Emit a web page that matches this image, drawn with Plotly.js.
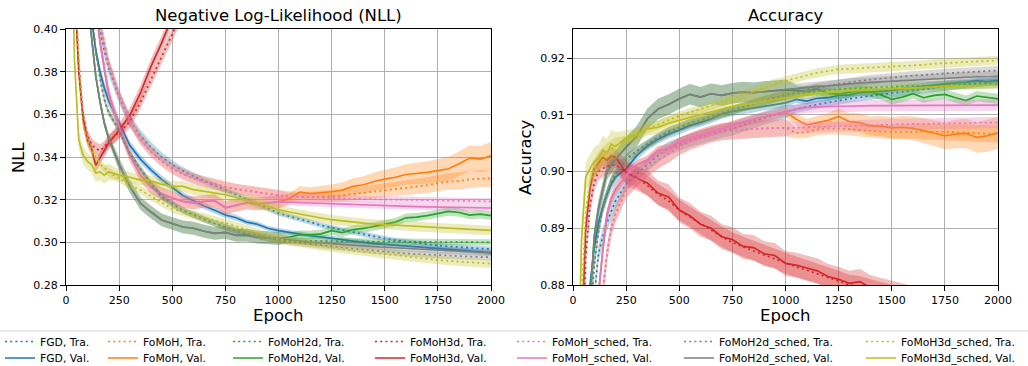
<!DOCTYPE html>
<html><head><meta charset="utf-8">
<script src="https://cdn.plot.ly/plotly-3.0.1.min.js"></script>
<style>html,body{margin:0;padding:0;background:#fff;}#chart{width:1028px;height:366px;}</style>
</head><body><div id="chart"></div>
<script>
// ---------------- DATA ----------------
const epochs = [0,20,40,60,80,100,120,140,160,180,200,
 250,300,350,400,450,500,550,600,650,700,750,800,850,900,950,1000,
 1050,1100,1150,1200,1250,1300,1350,1400,1450,1500,1550,1600,1650,1700,1750,1800,1850,1900,1950,2000];

const methodNames = ['FGD','FoMoH','FoMoH2d','FoMoH3d','FoMoH_sched','FoMoH2d_sched','FoMoH3d_sched'];
const panelTitles = ['Negative Log-Likelihood (NLL)','Accuracy'];
const yTitles = ['NLL','Accuracy'];
const xTitle = 'Epoch';
const nllTicks = [0.28,0.30,0.32,0.34,0.36,0.38,0.40];
const accTicks = [0.88,0.89,0.90,0.91,0.92];
const epochTicks = [0,250,500,750,1000,1250,1500,1750,2000];

// NLL means
const nllFGDTra = [0.700,0.630,0.570,0.520,0.480,0.450,0.430,0.413,0.400,0.390,0.382,
 0.368,0.357,0.350,0.3445,0.340,0.3365,0.3335,0.331,0.3288,0.3268,0.3245,0.3222,0.3200,0.3180,0.3158,0.3137,
 0.3122,0.3110,0.3095,0.3080,0.3068,0.3058,0.3048,0.3037,0.3027,0.3018,0.3010,0.3003,0.2997,0.2991,0.2985,0.2981,0.2977,0.2974,0.2971,0.2969];
const nllFGDVal = [0.700,0.620,0.550,0.500,0.460,0.430,0.405,0.390,0.380,0.3725,0.3665,
 0.3560,0.3455,0.3390,0.3340,0.3295,0.3258,0.3220,0.3195,0.3170,0.3150,0.3128,0.3115,0.3095,0.3085,0.3066,0.3055,
 0.3046,0.3038,0.3031,0.3025,0.3020,0.3013,0.3006,0.2999,0.2994,0.2990,0.2986,0.2983,0.2979,0.2976,0.2972,0.2968,0.2963,0.2960,0.2955,0.2952];
const nllFoMoHTra = [0.700,0.640,0.580,0.530,0.490,0.460,0.435,0.415,0.403,0.393,0.384,
 0.369,0.357,0.3485,0.3425,0.3380,0.3345,0.3320,0.3300,0.3285,0.3272,0.3260,0.3250,0.3242,0.3235,0.3228,0.3220,
 0.3215,0.3212,0.3212,0.3214,0.3216,0.3220,0.3226,0.3232,0.3238,0.3247,0.3252,0.3258,0.3263,0.3268,0.3278,0.3285,0.3288,0.3295,0.3298,0.3300];
const nllFoMoHVal = [0.700,0.640,0.585,0.535,0.495,0.460,0.432,0.410,0.394,0.381,0.370,
 0.354,0.341,0.3315,0.3258,0.3228,0.3208,0.3192,0.3185,0.3192,0.3195,0.3162,0.3175,0.3185,0.3180,0.3185,0.3190,
 0.3205,0.3235,0.3228,0.3232,0.3237,0.3245,0.3262,0.3270,0.3285,0.3296,0.3305,0.3318,0.3322,0.3328,0.3336,0.3345,0.3368,0.3395,0.3390,0.3405];
const nllFoMoH2dTra = [0.700,0.630,0.560,0.505,0.465,0.435,0.410,0.390,0.377,0.367,0.361,
 0.3525,0.3415,0.3345,0.3275,0.3215,0.3180,0.3150,0.3128,0.3108,0.3088,0.3070,0.3055,0.3042,0.3031,0.3020,0.3010,
 0.3008,0.3007,0.3006,0.3006,0.3005,0.3005,0.3004,0.3004,0.3003,0.3003,0.3003,0.3002,0.3002,0.3002,0.3001,0.3001,0.3001,0.3000,0.3000,0.3000];
const nllFoMoH2dVal = [0.700,0.620,0.550,0.490,0.450,0.415,0.395,0.378,0.366,0.356,0.349,
 0.3365,0.3262,0.3183,0.3142,0.3105,0.3088,0.3072,0.3066,0.3052,0.3042,0.3047,0.3033,0.3034,0.3024,0.3022,0.3018,
 0.3025,0.3035,0.3035,0.3040,0.3055,0.3045,0.3060,0.3065,0.3075,0.3085,0.3095,0.3115,0.3118,0.3125,0.3135,0.3145,0.3140,0.3128,0.3132,0.3125];
const nllFoMoH3dTra = [0.700,0.530,0.425,0.385,0.360,0.350,0.346,0.344,0.343,0.3445,0.3475,
 0.3515,0.3565,0.3655,0.3765,0.3870,0.3975,0.4080,0.4190,0.4310,0.4430,0.4550,0.4670,0.4790,0.4910,0.5030,0.5150,
 0.527,0.539,0.551,0.563,0.575,0.587,0.599,0.611,0.623,0.635,0.647,0.659,0.671,0.683,0.695,0.707,0.719,0.731,0.743,0.755];
const nllFoMoH3dVal = [0.700,0.520,0.420,0.380,0.358,0.348,0.344,0.336,0.3395,0.343,0.3465,
 0.3525,0.3595,0.3700,0.3825,0.3935,0.4055,0.4170,0.4290,0.4410,0.4530,0.4650,0.4770,0.4890,0.5010,0.5130,0.5250,
 0.537,0.549,0.561,0.573,0.585,0.597,0.609,0.621,0.633,0.645,0.657,0.669,0.681,0.693,0.705,0.717,0.729,0.741,0.753,0.765];
const nllSchedTra = [0.700,0.640,0.580,0.530,0.490,0.460,0.435,0.415,0.403,0.393,0.384,
 0.369,0.357,0.3485,0.3425,0.3380,0.3345,0.3320,0.3300,0.3285,0.3272,0.3260,0.3250,0.3242,0.3235,0.3228,0.3220,
 0.3218,0.3215,0.3213,0.3210,0.3208,0.3206,0.3204,0.3203,0.3202,0.3200,0.3199,0.3198,0.3197,0.3196,0.3195,0.3194,0.3193,0.3193,0.3192,0.3192];
const nllSchedVal = [0.700,0.640,0.585,0.535,0.495,0.460,0.432,0.410,0.394,0.381,0.370,
 0.354,0.341,0.3315,0.3258,0.3228,0.3208,0.3192,0.3185,0.3192,0.3195,0.3162,0.3175,0.3185,0.3180,0.3185,0.3190,
 0.3188,0.3186,0.3184,0.3182,0.3180,0.3178,0.3176,0.3174,0.3172,0.3170,0.3169,0.3168,0.3167,0.3166,0.3165,0.3164,0.3163,0.3162,0.3161,0.3161];
const nll2dSchedTra = [0.700,0.630,0.560,0.505,0.465,0.435,0.410,0.390,0.377,0.367,0.361,
 0.3525,0.3415,0.3345,0.3275,0.3215,0.3180,0.3150,0.3128,0.3108,0.3088,0.3070,0.3055,0.3042,0.3031,0.3020,0.3010,
 0.3003,0.2997,0.2990,0.2985,0.2980,0.2975,0.2970,0.2965,0.2960,0.2956,0.2952,0.2948,0.2945,0.2942,0.2939,0.2937,0.2935,0.2933,0.2931,0.2930];
const nll2dSchedVal = [0.700,0.620,0.550,0.490,0.450,0.415,0.395,0.378,0.366,0.356,0.349,
 0.3365,0.3262,0.3183,0.3142,0.3105,0.3088,0.3072,0.3066,0.3052,0.3042,0.3047,0.3033,0.3034,0.3024,0.3022,0.3018,
 0.3012,0.3005,0.3000,0.2997,0.2993,0.2990,0.2987,0.2983,0.2980,0.2977,0.2974,0.2971,0.2968,0.2965,0.2962,0.2960,0.2957,0.2955,0.2952,0.2950];
const nll3dSchedTra = [0.700,0.520,0.420,0.385,0.355,0.348,0.343,0.340,0.337,0.335,0.333,
 0.3300,0.3270,0.3245,0.3215,0.3185,0.3158,0.3142,0.3128,0.3115,0.3103,0.3090,0.3075,0.3060,0.3045,0.3030,0.3015,
 0.3005,0.2997,0.2990,0.2982,0.2975,0.2968,0.2962,0.2956,0.2950,0.2944,0.2938,0.2932,0.2927,0.2922,0.2917,0.2913,0.2909,0.2905,0.2902,0.2900];
const nll3dSchedVal = [0.700,0.480,0.385,0.348,0.341,0.338,0.3365,0.3325,0.3330,0.3315,0.3330,
 0.3315,0.3305,0.3292,0.3288,0.3272,0.3262,0.3262,0.3247,0.3240,0.3232,0.3223,0.3210,0.3198,0.3185,0.3170,0.3153,
 0.3142,0.3132,0.3122,0.3114,0.3106,0.3100,0.3095,0.3090,0.3086,0.3083,0.3080,0.3076,0.3073,0.3070,0.3067,0.3065,0.3062,0.3060,0.3058,0.3056];

// NLL spread (std)
const sNllFGDTra = [.004,.004,.004,.004,.004,.004,.004,.004,.004,.0035,.0035,
 .003,.003,.0028,.0025,.0022,.002,.0018,.0016,.0015,.0015,.0014,.0014,.0013,.0013,.0012,.0012,
 .0012,.0012,.0012,.0012,.0012,.0012,.0012,.0012,.0012,.0012,.0012,.0012,.0012,.0012,.0012,.0012,.0012,.0012,.0012,.0012];
const sNllFGDVal = [.003,.003,.003,.003,.003,.003,.003,.003,.003,.003,.003,
 .0022,.002,.002,.0018,.0018,.0016,.0016,.0015,.0015,.0015,.0014,.0014,.0013,.0013,.0012,.0012,
 .0012,.0012,.0012,.0012,.0012,.0012,.0012,.0012,.0012,.0012,.0011,.0011,.0011,.0011,.0011,.0011,.0011,.0011,.0011,.0011];
const sNllFoMoHTra = [.003,.003,.003,.003,.003,.003,.003,.003,.003,.003,.003,
 .0028,.0027,.0026,.0025,.0025,.0025,.0025,.0025,.0025,.0025,.0025,.0025,.0025,.0025,.0025,.0025,
 .0025,.0025,.0026,.0027,.0028,.0029,.003,.0031,.0032,.0033,.0034,.0035,.0036,.0037,.0038,.0039,.004,.004,.004,.004];
const sNllFoMoHVal = [.003,.003,.003,.003,.003,.003,.003,.003,.003,.003,.003,
 .003,.003,.003,.003,.003,.003,.003,.003,.003,.003,.003,.003,.003,.003,.003,.003,
 .0025,.0028,.003,.0032,.0034,.0036,.0038,.004,.0042,.0044,.0046,.0048,.005,.0052,.0054,.0056,.0058,.006,.0062,.0065];
const sNllFoMoH2dTra = [.0015,.0015,.0015,.0015,.0015,.0015,.0015,.0015,.0015,.0015,.0015,
 .0015,.0015,.0015,.0015,.0015,.0015,.0015,.0015,.0015,.0015,.0015,.0015,.0015,.0015,.0015,.0015,
 .0015,.0015,.0015,.0015,.0015,.0015,.0015,.0015,.0015,.0015,.0015,.0015,.0015,.0015,.0015,.0015,.0015,.0015,.0015,.0015];
const sNllFoMoH2dVal = [.002,.002,.002,.002,.002,.002,.002,.002,.002,.002,.002,
 .003,.003,.003,.003,.003,.003,.003,.003,.003,.003,.003,.003,.003,.003,.003,.003,
 .002,.002,.002,.002,.002,.002,.002,.002,.002,.002,.002,.002,.002,.002,.002,.002,.002,.002,.002,.002];
const sNllFoMoH3dTra = [.003,.003,.003,.003,.003,.003,.003,.003,.003,.003,.003,
 .003,.003,.003,.003,.003,.003,.003,.003,.003,.003,.003,.003,.003,.003,.003,.003,
 .003,.003,.003,.003,.003,.003,.003,.003,.003,.003,.003,.003,.003,.003,.003,.003,.003,.003,.003,.003];
const sNllFoMoH3dVal = [.003,.003,.003,.003,.003,.003,.003,.003,.003,.003,.003,
 .0035,.0035,.0035,.0035,.0035,.0035,.0035,.0035,.0035,.0035,.0035,.0035,.0035,.0035,.0035,.0035,
 .0035,.0035,.0035,.0035,.0035,.0035,.0035,.0035,.0035,.0035,.0035,.0035,.0035,.0035,.0035,.0035,.0035,.0035,.0035,.0035];
const sNllSchedTra = [.003,.003,.003,.003,.003,.003,.003,.003,.003,.003,.003,
 .0028,.0027,.0026,.0025,.0025,.0025,.0025,.0025,.0025,.0025,.0025,.0025,.0025,.0025,.0025,.0025,
 .0015,.0015,.0015,.0015,.0015,.0015,.0015,.0015,.0015,.0015,.0015,.0015,.0015,.0015,.0015,.0015,.0015,.0015,.0015,.0015];
const sNllSchedVal = [.003,.003,.003,.003,.003,.003,.003,.003,.003,.003,.003,
 .003,.003,.003,.003,.003,.003,.003,.003,.003,.003,.003,.003,.003,.003,.003,.003,
 .0015,.0015,.0015,.0015,.0015,.0015,.0015,.0015,.0015,.0015,.0015,.0015,.0015,.0015,.0015,.0015,.0015,.0015,.0015,.0015];
const sNll2dSchedTra = [.0015,.0015,.0015,.0015,.0015,.0015,.0015,.0015,.0015,.0015,.0015,
 .0015,.0015,.0015,.0015,.0015,.0015,.0015,.0015,.0015,.0015,.0015,.0015,.0015,.0015,.0015,.0015,
 .0015,.0015,.0015,.0015,.0015,.0015,.0015,.0015,.0015,.0015,.0015,.0015,.0015,.0015,.0015,.0015,.0015,.0015,.0015,.0015];
const sNll2dSchedVal = [.002,.002,.002,.002,.002,.002,.002,.002,.002,.002,.002,
 .003,.003,.003,.003,.003,.003,.003,.003,.003,.003,.003,.003,.003,.003,.003,.003,
 .0015,.0015,.0015,.0015,.0015,.0015,.0015,.0015,.0015,.0015,.0015,.0015,.0015,.0015,.0015,.0015,.0015,.0015,.0015,.0015];
const sNll3dSchedTra = [.002,.002,.002,.002,.002,.002,.002,.002,.002,.002,.002,
 .002,.002,.002,.002,.002,.002,.002,.002,.002,.002,.002,.002,.002,.002,.002,.002,
 .002,.002,.002,.002,.002,.002,.002,.002,.002,.002,.002,.002,.002,.002,.002,.002,.002,.002,.002,.002];
const sNll3dSchedVal = [.004,.004,.004,.004,.004,.004,.004,.004,.004,.004,.004,
 .0025,.0025,.0025,.0025,.0025,.0025,.0025,.0025,.0025,.0025,.0025,.0025,.0025,.0025,.0025,.0025,
 .0022,.0022,.0022,.0022,.0022,.0022,.0022,.0022,.0022,.0022,.0022,.0022,.0022,.0022,.0022,.0022,.0022,.0022,.0022,.0022];

// Accuracy means
const accFGDTra = [0.700,0.750,0.790,0.830,0.855,0.878,0.8856,0.8885,0.8910,0.8930,0.8948,
 0.8978,0.8996,0.9012,0.9028,0.9041,0.9048,0.9055,0.9061,0.9066,0.9071,0.9075,0.9082,0.9088,0.9095,0.9100,0.9105,
 0.9110,0.9114,0.9118,0.9122,0.9125,0.9128,0.9131,0.9134,0.9136,0.9138,0.9140,0.9142,0.9145,0.9147,0.9150,0.9152,0.9154,0.9156,0.9158,0.9160];
const accFGDVal = [0.720,0.770,0.815,0.850,0.880,0.8865,0.8910,0.8938,0.8960,0.8978,0.8990,
 0.9005,0.9028,0.9045,0.9057,0.9066,0.9073,0.9081,0.9087,0.9093,0.9101,0.9106,0.9109,0.9112,0.9116,0.9118,0.9121,
 0.9127,0.9124,0.9129,0.9130,0.9134,0.9135,0.9139,0.9140,0.9141,0.9143,0.9146,0.9148,0.9150,0.9153,0.9155,0.9156,0.9157,0.9160,0.9158,0.9160];
const accFoMoHTra = [0.690,0.730,0.770,0.800,0.830,0.853,0.869,0.879,0.8855,0.8900,0.8925,
 0.8968,0.8988,0.9006,0.9020,0.9031,0.9044,0.9053,0.9060,0.9066,0.9070,0.9072,0.9074,0.9075,0.9076,0.9076,0.9077,
 0.9068,0.9069,0.9074,0.9076,0.9076,0.9075,0.9074,0.9072,0.9070,0.9070,0.9070,0.9071,0.9070,0.9070,0.9070,0.9069,0.9068,0.9067,0.9067,0.9066];
const accFoMoHVal = [0.700,0.740,0.780,0.815,0.845,0.868,0.8785,0.8860,0.8925,0.8952,0.8968,
 0.8993,0.9012,0.9020,0.9037,0.9041,0.9052,0.9058,0.9064,0.9070,0.9076,0.9081,0.9087,0.9092,0.9096,0.9100,0.9105,
 0.9092,0.9082,0.9086,0.9090,0.9097,0.9088,0.9086,0.9080,0.9080,0.9077,0.9078,0.9076,0.9072,0.9068,0.9063,0.9066,0.9067,0.9060,0.9063,0.9068];
const accFoMoH2dTra = [0.740,0.790,0.830,0.857,0.873,0.8835,0.8895,0.8935,0.8960,0.8983,0.8995,
 0.9022,0.9036,0.9048,0.9060,0.9070,0.9078,0.9085,0.9090,0.9097,0.9103,0.9108,0.9114,0.9119,0.9125,0.9130,0.9135,
 0.9138,0.9140,0.9142,0.9143,0.9145,0.9146,0.9147,0.9148,0.9149,0.9150,0.9150,0.9151,0.9151,0.9152,0.9152,0.9153,0.9153,0.9154,0.9154,0.9155];
const accFoMoH2dVal = [0.750,0.800,0.840,0.865,0.877,0.8885,0.8935,0.8965,0.9000,0.9012,0.9022,
 0.9043,0.9062,0.9093,0.9110,0.9118,0.9128,0.9136,0.9131,0.9137,0.9134,0.9138,0.9140,0.9139,0.9141,0.9142,0.9144,
 0.9143,0.9141,0.9145,0.9138,0.9136,0.9140,0.9143,0.9140,0.9135,0.9127,0.9131,0.9137,0.9130,0.9134,0.9136,0.9130,0.9125,0.9133,0.9130,0.9128];
const accFoMoH3dTra = [0.750,0.810,0.860,0.885,0.894,0.898,0.9000,0.9005,0.9010,0.9010,0.9012,
 0.8998,0.8990,0.8975,0.8960,0.8948,0.8932,0.8920,0.8908,0.8896,0.8885,0.8875,0.8867,0.8860,0.8853,0.8846,0.8838,
 0.8832,0.8826,0.8820,0.8813,0.8807,0.8800,0.8798,0.8792,0.8787,0.8782,0.8777,0.8773,0.8769,0.8765,0.8761,0.8757,0.8753,0.8750,0.8747,0.8743];
const accFoMoH3dVal = [0.760,0.820,0.870,0.890,0.897,0.9005,0.9015,0.9025,0.9020,0.9028,0.9025,
 0.8998,0.8988,0.8980,0.8962,0.8955,0.8932,0.8922,0.8907,0.8900,0.8885,0.8880,0.8868,0.8866,0.8855,0.8852,0.8838,
 0.8835,0.8830,0.8825,0.8815,0.8810,0.8803,0.8806,0.8795,0.8790,0.8785,0.8780,0.8776,0.8772,0.8768,0.8764,0.8760,0.8756,0.8752,0.8749,0.8745];
const accSchedTra = [0.690,0.730,0.770,0.800,0.830,0.853,0.869,0.879,0.8855,0.8900,0.8925,
 0.8968,0.8988,0.9006,0.9020,0.9031,0.9044,0.9053,0.9060,0.9066,0.9070,0.9072,0.9074,0.9075,0.9076,0.9076,0.9077,
 0.9077,0.9078,0.9078,0.9079,0.9080,0.9080,0.9081,0.9081,0.9082,0.9083,0.9083,0.9084,0.9084,0.9084,0.9085,0.9085,0.9085,0.9086,0.9086,0.9086];
const accSchedVal = [0.700,0.740,0.780,0.815,0.845,0.868,0.8785,0.8860,0.8925,0.8952,0.8968,
 0.8993,0.9012,0.9020,0.9037,0.9041,0.9052,0.9058,0.9064,0.9070,0.9076,0.9081,0.9087,0.9092,0.9096,0.9100,0.9105,
 0.9110,0.9113,0.9114,0.9115,0.9115,0.9115,0.9116,0.9116,0.9116,0.9116,0.9116,0.9117,0.9117,0.9117,0.9117,0.9117,0.9117,0.9117,0.9117,0.9117];
const acc2dSchedTra = [0.740,0.790,0.830,0.857,0.873,0.8835,0.8895,0.8935,0.8960,0.8983,0.8995,
 0.9022,0.9036,0.9048,0.9060,0.9070,0.9078,0.9085,0.9090,0.9097,0.9103,0.9108,0.9114,0.9119,0.9125,0.9130,0.9135,
 0.9140,0.9144,0.9148,0.9151,0.9155,0.9158,0.9160,0.9162,0.9164,0.9166,0.9168,0.9169,0.9170,0.9172,0.9173,0.9174,0.9175,0.9176,0.9177,0.9178];
const acc2dSchedVal = [0.750,0.800,0.840,0.865,0.877,0.8885,0.8935,0.8965,0.9000,0.9012,0.9022,
 0.9043,0.9062,0.9093,0.9110,0.9118,0.9128,0.9136,0.9131,0.9137,0.9134,0.9138,0.9140,0.9139,0.9141,0.9142,0.9144,
 0.9146,0.9148,0.9150,0.9151,0.9153,0.9155,0.9156,0.9157,0.9158,0.9160,0.9161,0.9162,0.9163,0.9164,0.9165,0.9166,0.9166,0.9167,0.9167,0.9168];
const acc3dSchedTra = [0.790,0.840,0.878,0.893,0.898,0.9005,0.9020,0.9028,0.9035,0.9040,0.9045,
 0.9055,0.9066,0.9075,0.9083,0.9090,0.9098,0.9104,0.9110,0.9116,0.9122,0.9128,0.9135,0.9141,0.9148,0.9155,0.9160,
 0.9165,0.9170,0.9174,0.9177,0.9180,0.9181,0.9182,0.9183,0.9183,0.9184,0.9186,0.9187,0.9188,0.9190,0.9191,0.9192,0.9193,0.9194,0.9195,0.9196];
const acc3dSchedVal = [0.800,0.855,0.888,0.899,0.9005,0.9018,0.9022,0.9038,0.9033,0.9048,0.9044,
 0.9060,0.9064,0.9075,0.9078,0.9085,0.9090,0.9095,0.9099,0.9104,0.9109,0.9115,0.9118,0.9120,0.9124,0.9127,0.9130,
 0.9133,0.9135,0.9137,0.9139,0.9140,0.9142,0.9143,0.9144,0.9145,0.9146,0.9147,0.9148,0.9149,0.9150,0.9150,0.9151,0.9151,0.9152,0.9152,0.9152];

// Accuracy spread (std)
const sAccFGDTra = [.0015,.0015,.0015,.0015,.0015,.0015,.0015,.0015,.0015,.0015,.0015,
 .0012,.0012,.0012,.0012,.0012,.0012,.0012,.0012,.0012,.0012,.0012,.0012,.0012,.0012,.0012,.0012,
 .0007,.0007,.0007,.0007,.0007,.0007,.0007,.0007,.0007,.0007,.0007,.0007,.0007,.0007,.0007,.0007,.0007,.0007,.0007,.0007];
const sAccFGDVal = [.0012,.0012,.0012,.0012,.0012,.0012,.0012,.0012,.0012,.0012,.0012,
 .0008,.0008,.0008,.0008,.0008,.0008,.0008,.0008,.0008,.0008,.0008,.0008,.0008,.0008,.0008,.0008,
 .0006,.0006,.0006,.0006,.0006,.0006,.0006,.0006,.0006,.0006,.0006,.0006,.0006,.0006,.0006,.0006,.0006,.0006,.0006,.0006];
const sAccFoMoHTra = [.0015,.0015,.0015,.0015,.0015,.0015,.0015,.0015,.0015,.0015,.0015,
 .0015,.0015,.0015,.0015,.0015,.0015,.0015,.0015,.0015,.0015,.0015,.0015,.0015,.0015,.0015,.0015,
 .001,.001,.001,.0011,.0011,.0011,.0012,.0012,.0012,.0013,.0013,.0013,.0014,.0014,.0014,.0015,.0015,.0015,.0015,.0015];
const sAccFoMoHVal = [.001,.001,.001,.001,.001,.001,.001,.001,.001,.001,.001,
 .0008,.0008,.0008,.0008,.0008,.0008,.0008,.0008,.0008,.0008,.0008,.0008,.0008,.0008,.0008,.0008,
 .001,.0011,.0012,.0013,.0014,.0015,.0016,.0017,.0018,.0019,.002,.0021,.0022,.0023,.0024,.0025,.0026,.0027,.0028,.0028];
const sAccFoMoH2dTra = [.001,.001,.001,.001,.001,.001,.001,.001,.001,.001,.001,
 .0008,.0008,.0008,.0008,.0008,.0008,.0008,.0008,.0008,.0008,.0008,.0008,.0008,.0008,.0008,.0008,
 .0008,.0008,.0008,.0008,.0008,.0008,.0008,.0008,.0008,.0008,.0008,.0008,.0008,.0008,.0008,.0008,.0008,.0008,.0008,.0008];
const sAccFoMoH2dVal = [.0015,.0015,.0015,.0015,.0015,.0015,.0015,.0015,.0015,.0015,.0015,
 .0018,.0018,.0018,.0018,.0018,.0018,.0018,.0018,.0018,.0018,.0018,.0018,.0018,.0018,.0018,.0018,
 .0009,.0009,.0009,.0009,.0009,.0009,.0009,.0009,.0009,.0009,.0009,.0009,.0009,.0009,.0009,.0009,.0009,.0009,.0009,.0009];
const sAccFoMoH3dTra = [.0015,.0015,.0015,.0015,.0015,.0015,.0015,.0015,.0015,.0015,.0015,
 .0018,.0018,.0018,.0018,.0018,.0018,.0018,.0018,.0018,.0018,.0018,.0018,.0018,.0018,.0018,.0018,
 .0018,.0018,.0018,.0018,.0018,.0018,.0018,.0018,.0018,.0018,.0018,.0018,.0018,.0018,.0018,.0018,.0018,.0018,.0018,.0018];
const sAccFoMoH3dVal = [.0015,.0015,.0015,.0015,.0015,.0015,.0015,.0015,.0015,.0015,.0015,
 .0022,.0022,.0022,.0022,.0022,.0022,.0022,.0022,.0022,.0022,.0022,.0022,.0022,.0022,.0022,.0022,
 .0022,.0022,.0022,.0022,.0022,.0022,.0022,.0022,.0022,.0022,.0022,.0022,.0022,.0022,.0022,.0022,.0022,.0022,.0022,.0022];
const sAccSchedTra = [.0015,.0015,.0015,.0015,.0015,.0015,.0015,.0015,.0015,.0015,.0015,
 .0015,.0015,.0015,.0015,.0015,.0015,.0015,.0015,.0015,.0015,.0015,.0015,.0015,.0015,.0015,.0015,
 .001,.001,.001,.001,.001,.001,.001,.001,.001,.001,.001,.001,.001,.001,.001,.001,.001,.001,.001,.001];
const sAccSchedVal = [.001,.001,.001,.001,.001,.001,.001,.001,.001,.001,.001,
 .0008,.0008,.0008,.0008,.0008,.0008,.0008,.0008,.0008,.0008,.0008,.0008,.0008,.0008,.0008,.0008,
 .001,.001,.001,.001,.001,.001,.001,.001,.001,.001,.001,.001,.001,.001,.001,.001,.001,.001,.001,.001];
const sAcc2dSchedTra = [.001,.001,.001,.001,.001,.001,.001,.001,.001,.001,.001,
 .0008,.0008,.0008,.0008,.0008,.0008,.0008,.0008,.0008,.0008,.0008,.0008,.0008,.0008,.0008,.0008,
 .0008,.0008,.0008,.0008,.0008,.0008,.0008,.0008,.0008,.0008,.0008,.0008,.0008,.0008,.0008,.0008,.0008,.0008,.0008,.0008];
const sAcc2dSchedVal = [.0015,.0015,.0015,.0015,.0015,.0015,.0015,.0015,.0015,.0015,.0015,
 .0018,.0018,.0018,.0018,.0018,.0018,.0018,.0018,.0018,.0018,.0018,.0018,.0018,.0018,.0018,.0018,
 .0009,.0009,.0009,.0009,.0009,.0009,.0009,.0009,.0009,.0009,.0009,.0009,.0009,.0009,.0009,.0009,.0009,.0009,.0009,.0009];
const sAcc3dSchedTra = [.0015,.0015,.0015,.0015,.0015,.0015,.0015,.0015,.0015,.0015,.0015,
 .0008,.0008,.0008,.0008,.0008,.0008,.0008,.0008,.0008,.0008,.0008,.0008,.0008,.0008,.0008,.0008,
 .0008,.0008,.0008,.0008,.0008,.0008,.0008,.0008,.0008,.0008,.0008,.0008,.0008,.0008,.0008,.0008,.0008,.0008,.0008,.0008];
const sAcc3dSchedVal = [.0025,.0025,.0025,.0025,.0025,.0025,.0025,.0025,.0025,.0025,.0025,
 .0012,.0012,.0012,.0012,.0012,.0012,.0012,.0012,.0012,.0012,.0012,.0012,.0012,.0012,.0012,.0012,
 .0007,.0007,.0007,.0007,.0007,.0007,.0007,.0007,.0007,.0007,.0007,.0007,.0007,.0007,.0007,.0007,.0007,.0007,.0007,.0007];

// ---------------- DRAWING ----------------
const colors = ['#1f77b4','#ff7f0e','#2ca02c','#d62728','#e377c2','#7f7f7f','#bcbd22'];
const FONT = 'DejaVu Sans, sans-serif';
const W = 1028, H = 366;
const M = {l:66, r:30, t:29, b:81, autoexpand:false};
const PW = W - M.l - M.r, PH = H - M.t - M.b;
const px2x = px => (px - M.l) / PW;
const py2y = py => (H - M.b - py) / PH;

const panels = [
  {xa:'x', ya:'y', leg:true,
   tra:[nllFGDTra,nllFoMoHTra,nllFoMoH2dTra,nllFoMoH3dTra,nllSchedTra,nll2dSchedTra,nll3dSchedTra],
   val:[nllFGDVal,nllFoMoHVal,nllFoMoH2dVal,nllFoMoH3dVal,nllSchedVal,nll2dSchedVal,nll3dSchedVal],
   sTra:[sNllFGDTra,sNllFoMoHTra,sNllFoMoH2dTra,sNllFoMoH3dTra,sNllSchedTra,sNll2dSchedTra,sNll3dSchedTra],
   sVal:[sNllFGDVal,sNllFoMoHVal,sNllFoMoH2dVal,sNllFoMoH3dVal,sNllSchedVal,sNll2dSchedVal,sNll3dSchedVal]},
  {xa:'x2', ya:'y2', leg:false,
   tra:[accFGDTra,accFoMoHTra,accFoMoH2dTra,accFoMoH3dTra,accSchedTra,acc2dSchedTra,acc3dSchedTra],
   val:[accFGDVal,accFoMoHVal,accFoMoH2dVal,accFoMoH3dVal,accSchedVal,acc2dSchedVal,acc3dSchedVal],
   sTra:[sAccFGDTra,sAccFoMoHTra,sAccFoMoH2dTra,sAccFoMoH3dTra,sAccSchedTra,sAcc2dSchedTra,sAcc3dSchedTra],
   sVal:[sAccFGDVal,sAccFoMoHVal,sAccFoMoH2dVal,sAccFoMoH3dVal,sAccSchedVal,sAcc2dSchedVal,sAcc3dSchedVal]}
];

function rgba(hex, a){
  const n = parseInt(hex.slice(1),16);
  return 'rgba('+((n>>16)&255)+','+((n>>8)&255)+','+(n&255)+','+a+')';
}
function legendId(n){ return n===0 ? 'legend' : 'legend'+(n+1); }

const traces = [];
const revE = epochs.slice().reverse();
panels.forEach(p => {
  for (let i=0;i<7;i++){
    for (let k=0;k<2;k++){
      const y = k ? p.val[i] : p.tra[i];
      const s = k ? p.sVal[i] : p.sTra[i];
      const up = y.map((v,j)=>v+s[j]);
      const lo = y.map((v,j)=>v-s[j]);
      traces.push({x:epochs.concat(revE), y:up.concat(lo.slice().reverse()),
        mode:'lines', fill:'toself', fillcolor:rgba(colors[i],0.3),
        line:{width:0, color:rgba(colors[i],0)}, hoverinfo:'skip', showlegend:false,
        legend:legendId(i*2+k), xaxis:p.xa, yaxis:p.ya});
      traces.push({x:epochs, y:y, mode:'lines',
        line:{color:colors[i], width:1.7, dash: k ? 'solid' : '2px,3.2px'},
        name: methodNames[i] + (k ? ', Val.' : ', Tra.'),
        showlegend:p.leg, legend:legendId(i*2+k), xaxis:p.xa, yaxis:p.ya});
    }
  }
});

const axisCommon = {
  showline:true, mirror:true, linecolor:'#000', linewidth:1,
  ticks:'outside', ticklen:5, tickwidth:1, tickcolor:'#000',
  showgrid:true, gridcolor:'#b0b0b0', gridwidth:1, zeroline:false, automargin:false,
  tickfont:{family:FONT, size:11, color:'#000'}
};
const titleFont = {family:FONT, size:16.5, color:'#000'};

const layout = {
  width:W, height:H, margin:M, paper_bgcolor:'#fff', plot_bgcolor:'#fff',
  font:{family:FONT, color:'#000', size:11},
  showlegend:true,
  xaxis: Object.assign({}, axisCommon, {domain:[0, 425/PW], range:[0,2000], tickvals:epochTicks, anchor:'y'}),
  yaxis: Object.assign({}, axisCommon, {domain:[0,1], range:[0.28,0.40], tickvals:nllTicks, tickformat:'.2f', anchor:'x'}),
  xaxis2: Object.assign({}, axisCommon, {domain:[507/PW, 1], range:[0,2000], tickvals:epochTicks, anchor:'y2'}),
  yaxis2: Object.assign({}, axisCommon, {domain:[0,1], range:[0.88,0.92511], tickvals:accTicks, tickformat:'.2f', anchor:'x2'}),
  annotations: [
    {text:panelTitles[0], xref:'paper', yref:'paper', x:px2x(278.5), y:py2y(15.5), xanchor:'center', yanchor:'middle', showarrow:false, font:titleFont},
    {text:panelTitles[1], xref:'paper', yref:'paper', x:px2x(785.5), y:py2y(15.5), xanchor:'center', yanchor:'middle', showarrow:false, font:titleFont},
    {text:xTitle, xref:'paper', yref:'paper', x:px2x(278.5), y:py2y(315), xanchor:'center', yanchor:'middle', showarrow:false, font:titleFont},
    {text:xTitle, xref:'paper', yref:'paper', x:px2x(785.5), y:py2y(315), xanchor:'center', yanchor:'middle', showarrow:false, font:titleFont},
    {text:yTitles[0], xref:'paper', yref:'paper', x:px2x(18), y:0.5, xanchor:'center', yanchor:'middle', textangle:-90, showarrow:false, font:titleFont},
    {text:yTitles[1], xref:'paper', yref:'paper', x:px2x(525), y:0.5, xanchor:'center', yanchor:'middle', textangle:-90, showarrow:false, font:titleFont}
  ],
  shapes: [
    {type:'line', xref:'paper', yref:'paper', x0:px2x(0), x1:px2x(W), y0:py2y(331), y1:py2y(331),
     line:{color:'#d4d4d4', width:1}}
  ]
};

const colTextX = [40,143,268,410,552,719,901];
const rowY = [341.5, 358];
for (let i=0;i<7;i++){
  for (let k=0;k<2;k++){
    layout[legendId(i*2+k)] = {
      xref:'container', yref:'container',
      x:(colTextX[i]-40)/W, xanchor:'left',
      y:1-(rowY[k]-14.5)/H, yanchor:'top',
      bgcolor:'rgba(0,0,0,0)', borderwidth:0,
      font:{family:FONT, size:10.8, color:'#000'}, orientation:'v'
    };
  }
}

Plotly.newPlot('chart', traces, layout, {displayModeBar:false, staticPlot:true});
</script>
</body></html>
